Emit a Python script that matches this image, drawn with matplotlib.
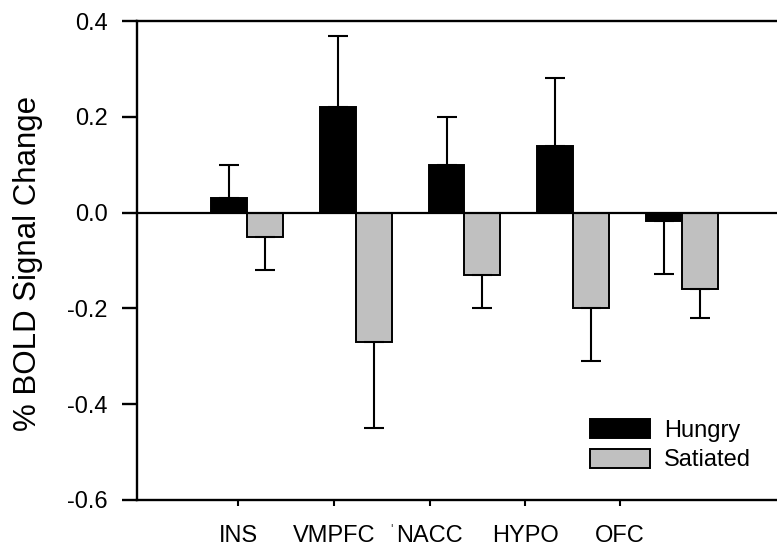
import numpy as np
import matplotlib

matplotlib.use("Agg")
import matplotlib.pyplot as plt

plt.rcParams["font.family"] = ["Liberation Sans", "DejaVu Sans"]

regions = ["INS", "VMPFC", "NACC", "HYPO", "OFC"]
hungry = [0.031, 0.22, 0.10, 0.14, -0.018]
hungry_err = [0.069, 0.149, 0.10, 0.14, 0.11]
satiated = [-0.05, -0.27, -0.13, -0.20, -0.16]
satiated_err = [0.07, 0.18, 0.07, 0.11, 0.06]
# label ticks in the original sit slightly off the bar groups
tick_pos = [-0.08, 0.80, 1.68, 2.56, 3.43]
yticks = [-0.6, -0.4, -0.2, 0.0, 0.2, 0.4]


def one_sided(values, errs):
    values = np.asarray(values)
    errs = np.asarray(errs)
    lower = np.where(values < 0, errs, 0.0)
    upper = np.where(values >= 0, errs, 0.0)
    return [lower, upper]


fig = plt.figure(figsize=(7.77, 5.48), dpi=100)
ax = fig.add_axes([137 / 777, 48 / 548, 1 - 137 / 777, (500 - 21) / 548])

x = np.arange(len(regions))
w = 0.33
err_kw = dict(ecolor="black", elinewidth=1.5, capsize=7, capthick=1.5)

ax.bar(x - w / 2, hungry, w, color="black", edgecolor="black", linewidth=1.4,
       label="Hungry", zorder=2)
ax.bar(x + w / 2, satiated, w, color="#c0c0c0", edgecolor="black", linewidth=1.4,
       label="Satiated", zorder=2)
ax.errorbar(x - w / 2, hungry, yerr=one_sided(hungry, hungry_err), fmt="none",
            zorder=3, **err_kw)
ax.errorbar(x + w / 2, satiated, yerr=one_sided(satiated, satiated_err), fmt="none",
            zorder=3, **err_kw)

ax.axhline(0, color="black", linewidth=1.6, zorder=4)

ax.set_xlim(-1.011, 4.874)
ax.set_ylim(-0.6, 0.4)
ax.set_yticks(yticks)
ax.set_yticklabels([f"{v:.1f}" for v in yticks])
ax.set_xticks(tick_pos)
ax.set_xticklabels(regions)

for side in ["left", "top", "bottom"]:
    ax.spines[side].set_linewidth(1.7)
ax.spines["right"].set_visible(False)

ax.tick_params(axis="y", direction="out", length=11, width=1.7, pad=10, labelsize=17)
ax.tick_params(axis="x", direction="out", length=4, width=1.5, pad=14, labelsize=17)

fig.text(28 / 777, 1 - 263 / 548, "% BOLD Signal Change", rotation=90,
         ha="center", va="center", fontsize=22.5)
fig.text(392 / 777, 1 - 530 / 548, "'", fontsize=10, color="#555555",
         ha="center", va="center")

ax.legend(loc="upper left", bbox_to_anchor=(590 / 777, 1 - 419 / 548),
          bbox_transform=fig.transFigure, frameon=False, fontsize=17,
          borderpad=0, borderaxespad=0, handlelength=2.55, handleheight=0.85,
          handletextpad=0.6, labelspacing=0.3)

fig.savefig("out.png", dpi=100)
